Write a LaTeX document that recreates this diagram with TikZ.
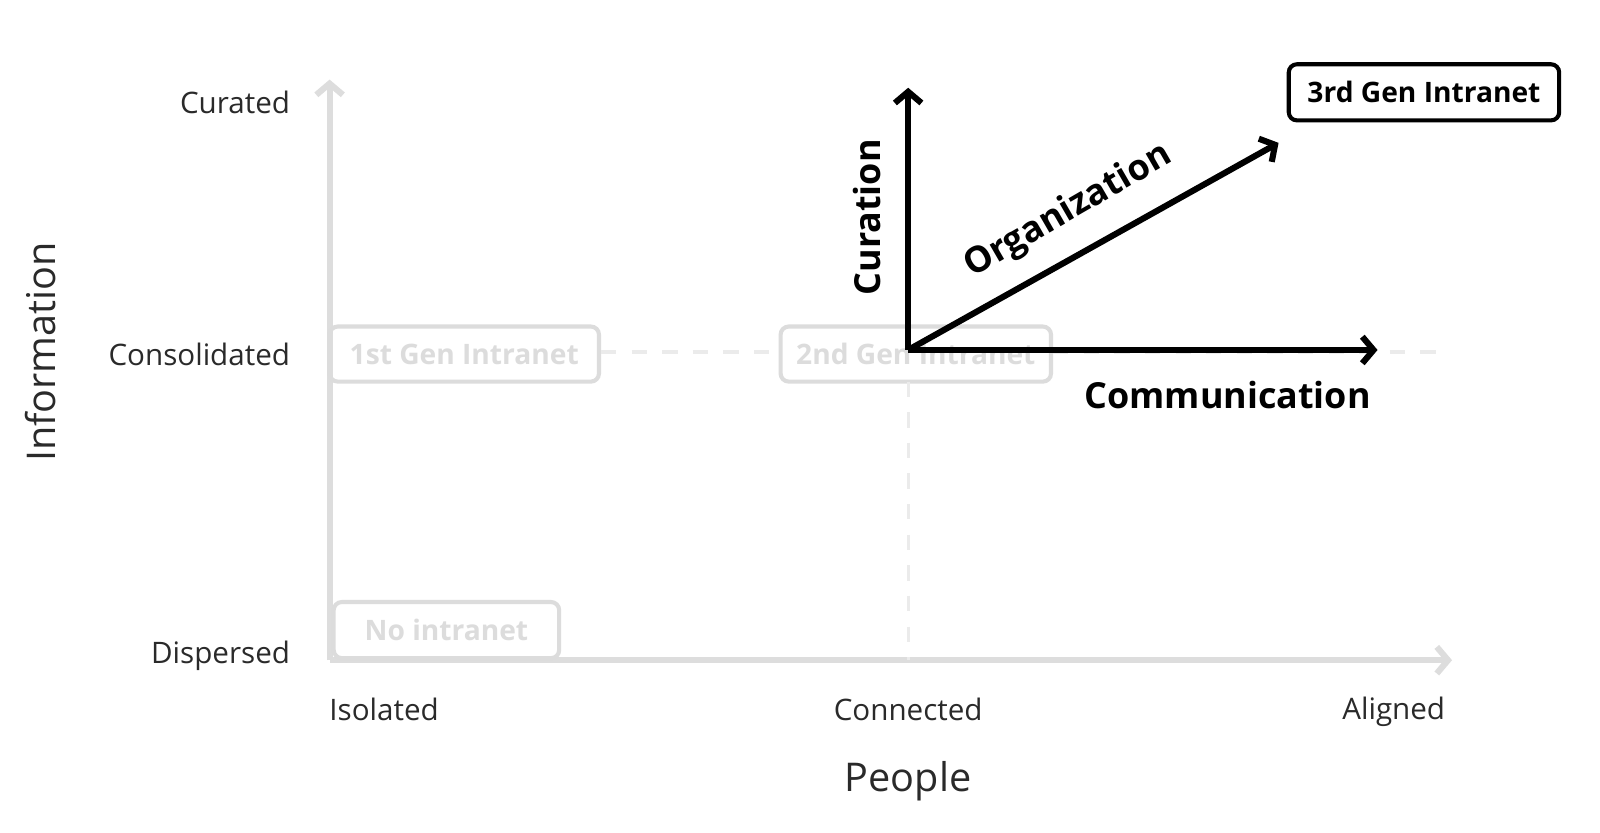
\documentclass[tikz,border=0pt]{standalone}
\usepackage{fontspec}
\setmainfont{Open Sans}
\usetikzlibrary{arrows.meta}
\definecolor{axisgray}{HTML}{DDDDDD}
\definecolor{boxgray}{HTML}{DCDCDC}
\definecolor{dashgray}{HTML}{EBEBEB}
\definecolor{labelcol}{HTML}{2A2A2A}
\tikzset{
  axisline/.style={draw=axisgray, line width=1.5pt, -{Straight Barb[length=2.75pt,width=6.5pt,line width=1.5pt]}},
  blackarrow/.style={draw=black, line width=1.5pt, -{Straight Barb[length=2.75pt,width=6.5pt,line width=1.5pt]}},
  graybox/.style={draw=boxgray, line width=1pt, rounded corners=2pt, text=boxgray, font=\fontsize{6.9pt}{7.5pt}\selectfont\bfseries, inner sep=0pt},
  blackbox/.style={draw=black, line width=1pt, rounded corners=2pt, text=black, font=\fontsize{6.9pt}{7.5pt}\selectfont\bfseries, inner sep=0pt},
  guide/.style={draw=dashgray, line width=0.75pt, dash pattern=on 3.75pt off 3.75pt},
  ticklabel/.style={text=labelcol, font=\fontsize{7.25pt}{7.5pt}\selectfont, inner sep=0pt},
  axistitle/.style={text=labelcol, font=\fontsize{9.7pt}{10pt}\selectfont, inner sep=0pt},
  dimlabel/.style={text=black, font=\fontsize{8.8pt}{9pt}\selectfont\bfseries, inner sep=0pt}
}
\begin{document}
\begin{tikzpicture}[x=0.25pt,y=-0.25pt]
\path[use as bounding box, fill=white] (0,0) rectangle (1568,816.3);
% axes
\coordinate (origin) at (323,647);
\coordinate (ytop) at (323,78);
\coordinate (xend) at (1423,647);
\draw[axisline] (origin) -- (ytop);
\draw[axisline] (origin) -- (xend);
% boxes
\node[graybox, minimum width=66pt, minimum height=13.5pt] (g1) at (455,347) {1st Gen Intranet};
\node[graybox, minimum width=66.25pt, minimum height=13.5pt] (g2) at (897.5,347) {2nd Gen Intranet};
\node[graybox, minimum width=55.25pt, minimum height=13.75pt] (g0) at (437.5,617.5) {No intranet};
\node[blackbox, minimum width=66.25pt, minimum height=13.75pt] (g3) at (1395.5,90.5) {3rd Gen Intranet};
% guides
\coordinate (gright) at (1410,345);
\coordinate (gbottom) at (890,647);
\draw[guide] (g1.east |- 0,345) -- (g2.west |- 0,345);
\draw[guide] (g2.east |- 0,345) -- (gright);
\draw[guide] (890,374) -- (gbottom);
% axis labels
\node[ticklabel, anchor=east] (lcur) at (285,100) {Curated};
\node[ticklabel, anchor=east] (lcon) at (285,347) {Consolidated};
\node[ticklabel, anchor=east] (ldis) at (285,643) {Dispersed};
\node[ticklabel, anchor=west] (liso) at (322,695) {Isolated};
\node[ticklabel] (lconn) at (890,695) {Connected};
\node[ticklabel, anchor=east] (lali) at (1417,698) {Aligned};
\node[axistitle] (people) at (890,766) {People};
\node[axistitle, rotate=90] (info) at (40,345) {Information};
% black arrows
\coordinate (O) at (890,343);
\coordinate (ctip) at (890,86);
\coordinate (otip) at (1253,140);
\coordinate (mtip) at (1350,343);
\draw[blackarrow] (O) -- (ctip);
\draw[blackarrow] (O) -- (otip);
\draw[blackarrow] (O) -- (mtip);
\node[dimlabel, rotate=90] (cur) at (850,213) {Curation};
\node[dimlabel, rotate=30] (org) at (1047,207) {Organization};
\node[dimlabel] (com) at (1203,387) {Communication};
\end{tikzpicture}
\end{document}
